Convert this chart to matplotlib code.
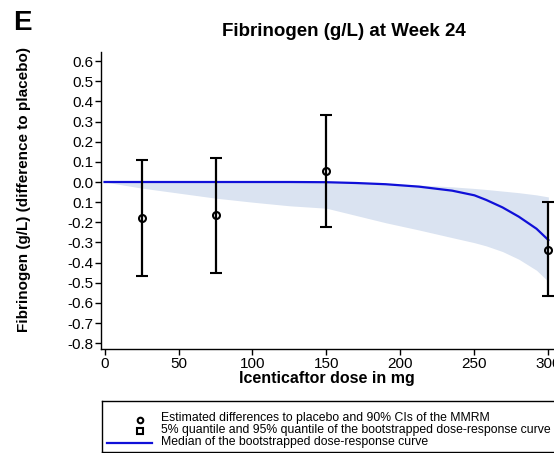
import matplotlib
matplotlib.use('Agg')
from matplotlib import pyplot as plt

plt.rcParams['font.family'] = ['Liberation Sans', 'DejaVu Sans']

# MMRM estimates (difference to placebo) with 90% CIs
doses = [25, 75, 150, 300]
estimate = [-0.18, -0.165, 0.055, -0.335]
ci_upper = [0.11, 0.12, 0.333, -0.10]
ci_lower = [-0.465, -0.45, -0.222, -0.566]

# bootstrapped dose-response curve (median, 95% and 5% quantiles)
curve_dose = [0, 25, 50, 75, 100, 125, 150, 170, 190, 212.5, 235, 250, 258, 269, 280, 292, 300]
curve_median = [0, 0, 0, 0, 0, 0, -0.001, -0.005, -0.011, -0.023, -0.043, -0.066, -0.089,
                -0.126, -0.172, -0.232, -0.288]
curve_q95 = [0, 0, 0, 0, 0, 0, 0, -0.003, -0.007, -0.015, -0.024, -0.032, -0.037,
             -0.045, -0.053, -0.064, -0.074]
curve_q05 = [0, -0.03, -0.055, -0.08, -0.10, -0.118, -0.13, -0.166, -0.202, -0.238, -0.276,
             -0.301, -0.317, -0.345, -0.383, -0.438, -0.494]

yticks = [0.6, 0.5, 0.4, 0.3, 0.2, 0.1, 0.0, -0.1, -0.2, -0.3, -0.4, -0.5, -0.6, -0.7, -0.8]
ytick_labels = ['0.6', '0.5', '0.4', '0.3', '0.2', '0.1', '0.0', '0.1', '-0.2', '-0.3',
                '-0.4', '-0.5', '-0.6', '-0.7', '-0.8']
xticks = [0, 50, 100, 150, 200, 250, 300]

legend_labels = ['Estimated differences to placebo and 90% CIs of the MMRM',
                 '5% quantile and 95% quantile of the bootstrapped dose-response curve',
                 'Median of the bootstrapped dose-response curve']

W, H = 554, 453
BLUE = '#1010d8'
fig = plt.figure(figsize=(W / 100, H / 100), dpi=100)
ax = fig.add_axes([100.7 / W, 1 - 349.3 / H, (W - 100.7) / W, (349.3 - 52) / H])

ax.fill_between(curve_dose, curve_q05, curve_q95, color='#dae3f1', lw=0, zorder=1)
ax.plot(curve_dose, curve_median, color=BLUE, lw=1.6, zorder=2)
yerr = [[e - lo for e, lo in zip(estimate, ci_lower)], [up - e for e, up in zip(estimate, ci_upper)]]
ax.errorbar(doses, estimate, yerr=yerr, fmt='o', color='black', mfc='none', mec='black',
            ms=5, mew=1.5, elinewidth=1.6, capsize=4.5, capthick=1.6, zorder=3, clip_on=False)

ax.set_xlim(-2.6, 303.8)
ax.set_ylim(-0.83, 0.645)
ax.set_xticks(xticks)
ax.set_yticks(yticks)
ax.set_yticklabels(ytick_labels)
ax.spines['top'].set_visible(False)
ax.spines['right'].set_visible(False)
for s in ['left', 'bottom']:
    ax.spines[s].set_linewidth(1.0)
ax.tick_params(axis='both', direction='out', length=4, width=1, labelsize=11, pad=1.5)
ax.set_xlabel('Icenticaftor dose in mg', fontsize=11.5, fontweight='bold', labelpad=0)

fig.text(24 / W, 1 - 189 / H, 'Fibrinogen (g/L) (difference to placebo)', rotation=90,
         ha='center', va='center', fontsize=11, fontweight='bold')
fig.text(344 / W, 1 - 31 / H, 'Fibrinogen (g/L) at Week 24', ha='center', va='center',
         fontsize=13.5, fontweight='bold')
fig.text(13 / W, 1 - 23.5 / H, 'E', ha='left', va='center', fontsize=20, fontweight='bold')

# legend box drawn in its own axes, in pixel units, running off the right edge
lax = fig.add_axes([101.7 / W, 1 - 452 / H, (620 - 101.7) / W, (452 - 401.3) / H])
lax.set_xlim(101.7, 620)
lax.set_ylim(452, 401.3)
lax.set_xticks([])
lax.set_yticks([])
for s in lax.spines.values():
    s.set_linewidth(1.0)
lax.plot([140], [420.2], ls='none', marker='o', mfc='none', mec='black', ms=4, mew=1.5)
lax.plot([140], [431], ls='none', marker='s', mfc='none', mec='black', ms=4, mew=1.5)
lax.plot([107, 152], [442.5, 442.5], color=BLUE, lw=1.6)
for i, lab in enumerate(legend_labels):
    lax.text(161, 418 + i * 11.8, lab, ha='left', va='center', fontsize=8.8)

fig.savefig('out.png', dpi=100)
